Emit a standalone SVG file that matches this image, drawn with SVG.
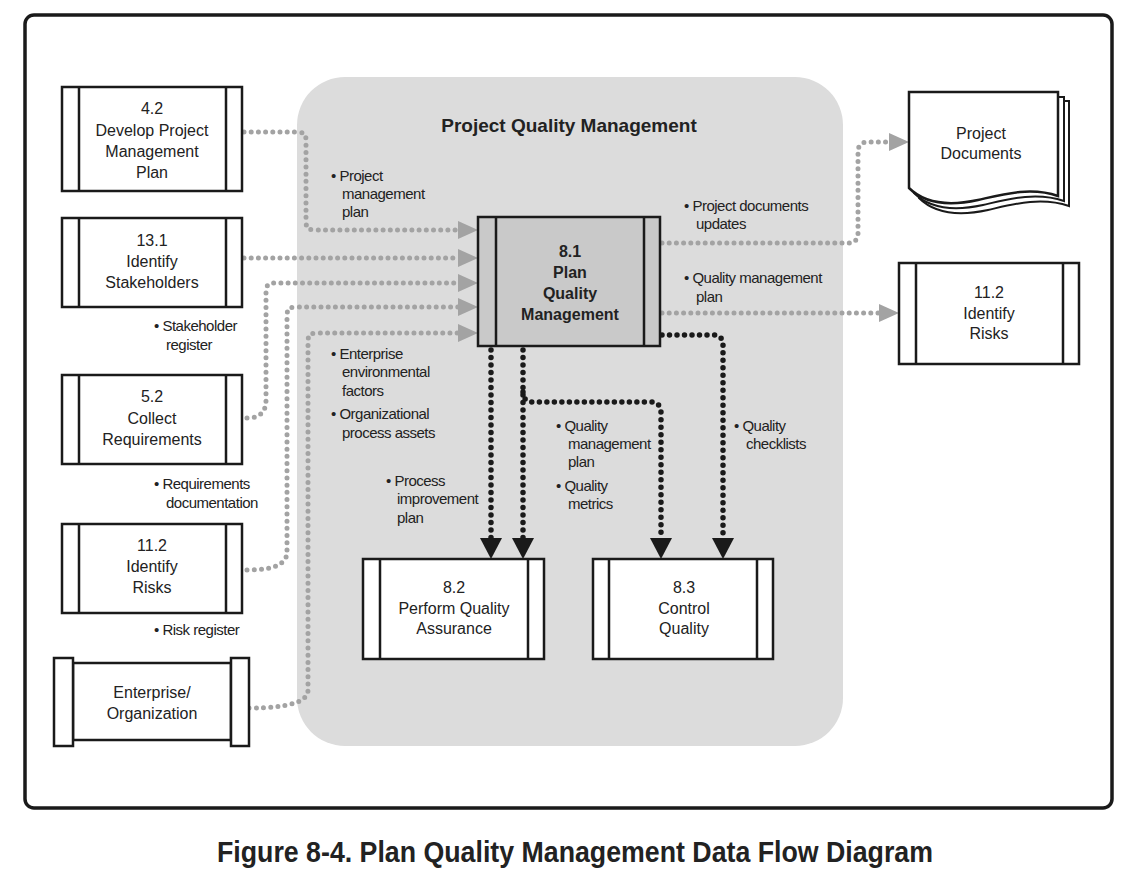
<svg xmlns="http://www.w3.org/2000/svg" width="1145" height="877" viewBox="0 0 1145 877">
<defs>
<style>
.box{fill:#fff;stroke:#1a1a1a;stroke-width:2.5}
.bt{font-family:"Liberation Sans",Arial,sans-serif;font-size:16px;fill:#222;text-anchor:middle}
.lb{font-family:"Liberation Sans",Arial,sans-serif;font-size:15px;letter-spacing:-0.5px;fill:#222}
.gd{fill:none;stroke:#a3a3a3;stroke-width:5;stroke-linecap:round;stroke-dasharray:0 7.2}
.bd{fill:none;stroke:#1a1a1a;stroke-width:5.5;stroke-linecap:round;stroke-dasharray:0 7.5}
.ga{fill:#a3a3a3}
.ba{fill:#1a1a1a}
</style>
</defs>
<rect width="1145" height="877" fill="#fff"/>
<rect x="25" y="15" width="1087" height="793" rx="9" fill="#fff" stroke="#1a1a1a" stroke-width="3.5"/>
<rect x="297" y="77" width="546" height="669" rx="48" fill="#dcdcdc"/>
<text x="569" y="132" font-family="Liberation Sans,Arial,sans-serif" font-size="19" font-weight="bold" fill="#222" text-anchor="middle">Project Quality Management</text>

<g id="connectors">
<path class="gd" d="M244,132 H298 Q306,132 306,140 V222 Q306,230 314,230 H458"/>
<path class="gd" d="M244,258 H458"/>
<path class="gd" d="M247,418 Q266,418 266,400 V291 Q266,283 274,283 H458"/>
<path class="gd" d="M247,570 Q287,570 287,552 V315 Q287,307 295,307 H458"/>
<path class="gd" d="M249,708 Q308,708 308,690 V341 Q308,333 316,333 H458"/>
<polygon class="ga" points="458,221 478,230 458,239"/>
<polygon class="ga" points="458,249 478,258 458,267"/>
<polygon class="ga" points="458,274 478,283 458,292"/>
<polygon class="ga" points="458,298 478,307 458,316"/>
<polygon class="ga" points="458,324 478,333 458,342"/>
<path class="gd" d="M662,243 H848 Q858,243 858,233 V152 Q858,142 868,142 H889"/>
<polygon class="ga" points="889,133 909,142 889,151"/>
<path class="gd" d="M662,313 H879"/>
<polygon class="ga" points="879,304 899,313 879,322"/>
<path class="bd" d="M491,350 V538"/>
<path class="bd" d="M523,350 V538"/>
<path class="bd" d="M523,392 Q523,402 533,402 H650 Q661,402 661,413 V538"/>
<path class="bd" d="M662,335 H713 Q723,335 723,345 V538"/>
<polygon class="ba" points="480,538 502,538 491,559"/>
<polygon class="ba" points="512,538 534,538 523,559"/>
<polygon class="ba" points="650,538 672,538 661,559"/>
<polygon class="ba" points="712,538 734,538 723,559"/>
</g>

<g id="n42">
<rect class="box" x="62" y="87" width="180" height="104"/>
<path class="box" d="M79,87 V191 M226,87 V191"/>
<text class="bt" x="152" y="114">4.2</text>
<text class="bt" x="152" y="136">Develop Project</text>
<text class="bt" x="152" y="157">Management</text>
<text class="bt" x="152" y="178">Plan</text>
</g>
<g id="n131">
<rect class="box" x="62" y="218" width="180" height="89"/>
<path class="box" d="M79,218 V307 M226,218 V307"/>
<text class="bt" x="152" y="246">13.1</text>
<text class="bt" x="152" y="267">Identify</text>
<text class="bt" x="152" y="288">Stakeholders</text>
</g>
<g id="n52">
<rect class="box" x="62" y="375" width="180" height="89"/>
<path class="box" d="M79,375 V464 M226,375 V464"/>
<text class="bt" x="152" y="402">5.2</text>
<text class="bt" x="152" y="424">Collect</text>
<text class="bt" x="152" y="445">Requirements</text>
</g>
<g id="n112l">
<rect class="box" x="62" y="524" width="180" height="89"/>
<path class="box" d="M79,524 V613 M226,524 V613"/>
<text class="bt" x="152" y="551">11.2</text>
<text class="bt" x="152" y="572">Identify</text>
<text class="bt" x="152" y="593">Risks</text>
</g>
<g id="nent">
<rect class="box" x="73" y="663" width="158" height="77"/>
<rect class="box" x="54" y="658" width="19" height="88"/>
<rect class="box" x="231" y="658" width="18" height="88"/>
<text class="bt" x="152" y="698">Enterprise/</text>
<text class="bt" x="152" y="719">Organization</text>
</g>
<g id="n81">
<rect x="478" y="217" width="182" height="129" fill="#c9c9c9" stroke="#1a1a1a" stroke-width="2.5"/>
<path class="box" d="M496,217 V346 M644,217 V346"/>
<g font-family="Liberation Sans,Arial,sans-serif" font-size="16" font-weight="bold" fill="#222" text-anchor="middle">
<text x="570" y="257">8.1</text>
<text x="570" y="278">Plan</text>
<text x="570" y="299">Quality</text>
<text x="570" y="320">Management</text>
</g>
</g>
<g id="ndocs">
<path d="M919,101 H1069 V206 C1040,196 1010,205 988,210 C960,216 935,214 919,198 Z" fill="#fff" stroke="#1a1a1a" stroke-width="2"/>
<path d="M914,97 H1064 V201 C1035,191 1005,200 983,205 C955,211 930,209 914,193 Z" fill="#fff" stroke="#1a1a1a" stroke-width="2"/>
<path d="M909,92 H1058 V196 C1030,186 1000,195 978,200 C950,206 925,204 909,188 Z" fill="#fff" stroke="#1a1a1a" stroke-width="2.5"/>
<text class="bt" x="981" y="139">Project</text>
<text class="bt" x="981" y="159">Documents</text>
</g>
<g id="n112r">
<rect class="box" x="899" y="263" width="180" height="101"/>
<path class="box" d="M916,263 V364 M1063,263 V364"/>
<text class="bt" x="989" y="298">11.2</text>
<text class="bt" x="989" y="319">Identify</text>
<text class="bt" x="989" y="339">Risks</text>
</g>
<g id="n82">
<rect class="box" x="363" y="559" width="181" height="100"/>
<path class="box" d="M380,559 V659 M528,559 V659"/>
<text class="bt" x="454" y="593">8.2</text>
<text class="bt" x="454" y="614">Perform Quality</text>
<text class="bt" x="454" y="634">Assurance</text>
</g>
<g id="n83">
<rect class="box" x="593" y="559" width="180" height="100"/>
<path class="box" d="M609,559 V659 M757,559 V659"/>
<text class="bt" x="684" y="593">8.3</text>
<text class="bt" x="684" y="614">Control</text>
<text class="bt" x="684" y="634">Quality</text>
</g>

<g id="labels">
<text class="lb" x="331" y="181">• Project</text>
<text class="lb" x="342" y="199">management</text>
<text class="lb" x="342" y="217">plan</text>
<text class="lb" x="154" y="331">• Stakeholder</text>
<text class="lb" x="166" y="350">register</text>
<text class="lb" x="154" y="489">• Requirements</text>
<text class="lb" x="166" y="508">documentation</text>
<text class="lb" x="154" y="635">• Risk register</text>
<text class="lb" x="331" y="359">• Enterprise</text>
<text class="lb" x="342" y="377">environmental</text>
<text class="lb" x="342" y="396">factors</text>
<text class="lb" x="331" y="419">• Organizational</text>
<text class="lb" x="342" y="438">process assets</text>
<text class="lb" x="386" y="486">• Process</text>
<text class="lb" x="397" y="504">improvement</text>
<text class="lb" x="397" y="523">plan</text>
<text class="lb" x="684" y="211">• Project documents</text>
<text class="lb" x="696" y="229">updates</text>
<text class="lb" x="684" y="283">• Quality management</text>
<text class="lb" x="696" y="302">plan</text>
<text class="lb" x="556" y="431">• Quality</text>
<text class="lb" x="568" y="449">management</text>
<text class="lb" x="568" y="467">plan</text>
<text class="lb" x="556" y="491">• Quality</text>
<text class="lb" x="568" y="509">metrics</text>
<text class="lb" x="734" y="431">• Quality</text>
<text class="lb" x="746" y="449">checklists</text>
</g>

<text x="575" y="862" font-family="Liberation Sans,Arial,sans-serif" font-size="29" font-weight="bold" fill="#222" text-anchor="middle" textLength="716" lengthAdjust="spacingAndGlyphs">Figure 8-4. Plan Quality Management Data Flow Diagram</text>
</svg>
